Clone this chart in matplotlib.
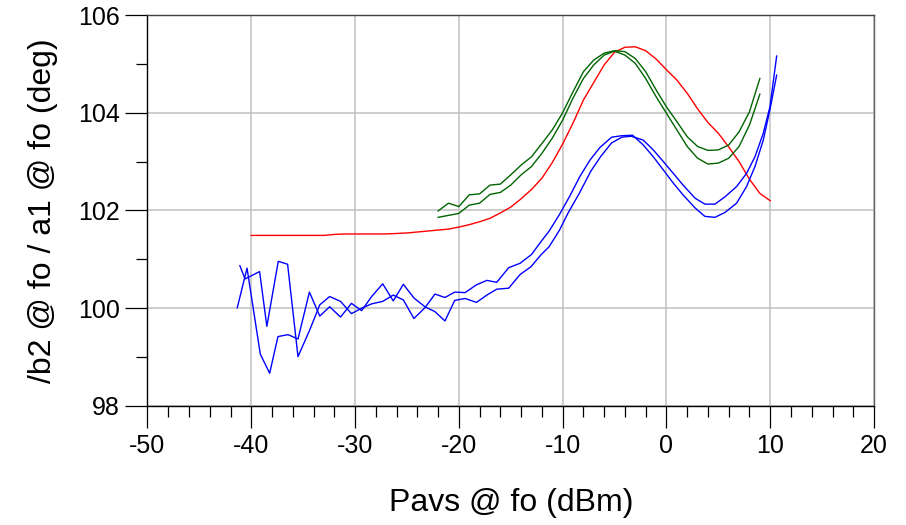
import matplotlib.pyplot as plt
from matplotlib.ticker import MultipleLocator

plt.rcParams['font.family'] = ['Liberation Sans', 'DejaVu Sans']
plt.rcParams['axes.unicode_minus'] = False

# red trace, 1 dB sweep
red_x = [-40, -39, -38, -37, -36, -35, -34, -33, -32, -31, -30, -29, -28, -27,
         -26, -25, -24, -23, -22, -21, -20, -19, -18, -17, -16, -15, -14, -13,
         -12, -11, -10, -9, -8, -7, -6, -5, -4, -3, -2, -1, 0, 1, 2, 3, 4, 5,
         6, 7, 8, 9, 10]
red_y = [101.49, 101.49, 101.49, 101.49, 101.49, 101.49, 101.49, 101.49, 101.51,
         101.52, 101.52, 101.52, 101.52, 101.52, 101.53, 101.54, 101.56, 101.58,
         101.60, 101.62, 101.66, 101.71, 101.77, 101.84, 101.95, 102.07, 102.24,
         102.43, 102.66, 102.98, 103.36, 103.79, 104.26, 104.62, 104.98, 105.24,
         105.34, 105.35, 105.27, 105.10, 104.88, 104.67, 104.40, 104.08, 103.80,
         103.58, 103.30, 103.00, 102.64, 102.35, 102.20]

# green traces
green_x = [-22, -21, -20, -19, -18, -17, -16, -15, -14, -13, -12, -11, -10, -9,
           -8, -7, -6, -5, -4, -3, -2, -1, 0, 1, 2, 3, 4, 5, 6, 7, 8, 9]
green1_y = [101.99, 102.15, 102.08, 102.32, 102.34, 102.52, 102.54, 102.73,
            102.93, 103.10, 103.37, 103.65, 104.00, 104.43, 104.84, 105.08,
            105.22, 105.27, 105.25, 105.11, 104.84, 104.47, 104.12, 103.82,
            103.51, 103.31, 103.23, 103.24, 103.34, 103.61, 104.02, 104.70]
green2_y = [101.86, 101.90, 101.94, 102.11, 102.15, 102.33, 102.37, 102.52,
            102.73, 102.90, 103.17, 103.48, 103.85, 104.30, 104.70, 104.98,
            105.18, 105.26, 105.18, 105.01, 104.70, 104.33, 103.99, 103.65,
            103.31, 103.07, 102.95, 102.97, 103.07, 103.31, 103.75, 104.38]

# blue traces (noisy at low drive)
blue1_x = [-41.35, -40.41, -39.13, -38.23, -37.43, -36.46, -35.5, -34.4, -33.4,
           -32.45, -31.4, -30.35, -29.37, -28.4, -27.34, -26.32, -25.35, -24.33,
           -23.27, -22.3, -21.34, -20.4, -19.4, -18.3, -17.3, -16.35, -15.2,
           -14.1, -13.05, -12.1, -11.3, -10.3, -9.5, -8.4, -7.3, -6.35, -5.3,
           -4.3, -3.4, -2.23, -1.27, -0.3, 0.66, 1.6, 2.77, 3.71, 4.67, 5.64,
           6.76, 7.72, 8.53, 9.33, 9.97, 10.62]
blue1_y = [100.01, 100.82, 99.06, 98.67, 99.42, 99.46, 99.37, 100.33, 99.84,
           100.03, 99.82, 100.10, 99.95, 100.24, 100.50, 100.15, 100.49, 100.21,
           100.03, 99.93, 99.74, 100.16, 100.20, 100.12, 100.27, 100.39, 100.41,
           100.69, 100.85, 101.09, 101.26, 101.60, 101.94, 102.35, 102.80,
           103.10, 103.38, 103.50, 103.52, 103.44, 103.24, 103.00, 102.76,
           102.52, 102.25, 102.13, 102.13, 102.28, 102.49, 102.76, 103.10,
           103.58, 104.12, 105.16]
blue2_x = [-41.1, -40.6, -39.2, -38.5, -37.4, -36.5, -35.5, -34.4, -33.4, -32.45,
           -31.4, -30.35, -29.37, -28.4, -27.34, -26.32, -25.35, -24.33, -23.27,
           -22.3, -21.34, -20.4, -19.4, -18.3, -17.3, -16.35, -15.2, -14.1,
           -13.0, -12.1, -11.3, -10.3, -9.3, -8.33, -7.37, -6.41, -5.28, -4.32,
           -3.26, -2.23, -1.27, -0.3, 0.66, 1.6, 2.77, 3.7, 4.67, 5.64, 6.76,
           7.72, 8.53, 9.33, 9.97, 10.62]
blue2_y = [100.87, 100.60, 100.75, 99.63, 100.96, 100.90, 99.01, 99.54, 100.07,
           100.24, 100.14, 99.89, 100.00, 100.09, 100.14, 100.27, 100.17, 99.79,
           100.01, 100.29, 100.22, 100.33, 100.32, 100.48, 100.57, 100.53,
           100.83, 100.92, 101.10, 101.36, 101.58, 101.92, 102.30, 102.70,
           103.03, 103.29, 103.50, 103.53, 103.54, 103.34, 103.10, 102.83,
           102.56, 102.32, 102.05, 101.88, 101.86, 101.96, 102.15, 102.49,
           102.90, 103.44, 104.06, 104.77]

fig = plt.figure(figsize=(9.06, 5.25), dpi=100)
ax = fig.add_axes([0.1628, 0.2267, 0.8019, 0.7447])

ax.plot(red_x, red_y, color='#ff0000', linewidth=1.0)
ax.plot(green_x, green1_y, color='#006400', linewidth=1.0)
ax.plot(green_x, green2_y, color='#006400', linewidth=1.0)
ax.plot(blue1_x, blue1_y, color='#0000ff', linewidth=1.0)
ax.plot(blue2_x, blue2_y, color='#0000ff', linewidth=1.0)

ax.set_xlim(-50, 20)
ax.set_ylim(98, 106)
ax.xaxis.set_major_locator(MultipleLocator(10))
ax.xaxis.set_minor_locator(MultipleLocator(2))
ax.yaxis.set_major_locator(MultipleLocator(2))
ax.yaxis.set_minor_locator(MultipleLocator(1))
ax.grid(True, which='major', color='#c0c0c0', linewidth=1.1)
ax.set_axisbelow(True)

ax.tick_params(which='major', direction='out', length=16, width=0.9,
               labelsize=18, pad=4, colors='black')
ax.tick_params(which='minor', direction='out', length=8, width=0.9)

ax.spines['left'].set_color('black')
ax.spines['bottom'].set_color('black')
ax.spines['top'].set_color('#404040')
ax.spines['right'].set_color('#606060')
for s in ax.spines.values():
    s.set_linewidth(1.0)

ax.set_xlabel('Pavs @ fo (dBm)', fontsize=23, labelpad=22)
ax.set_ylabel('/b2 @ fo / a1 @ fo (deg)', fontsize=23, labelpad=14)

fig.savefig('out.png', dpi=100)
